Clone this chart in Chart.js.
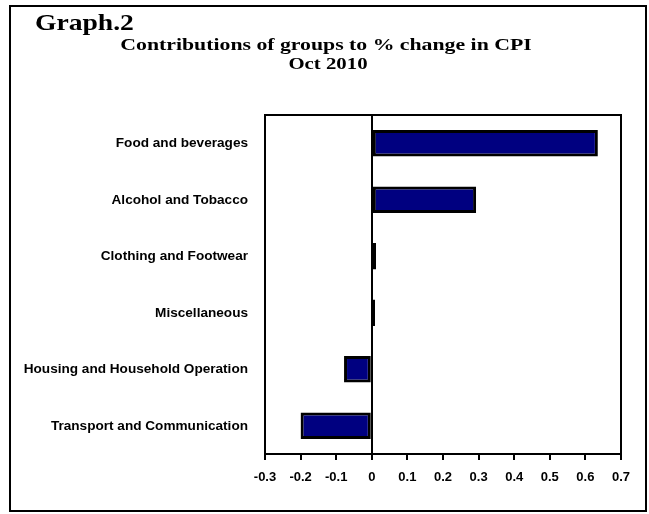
<!DOCTYPE html>
<html>
<head>
<meta charset="utf-8">
<script src="https://cdn.jsdelivr.net/npm/chart.js@4.4.0/dist/chart.umd.min.js"></script>
<style>
  html, body { margin: 0; padding: 0; background: #fff; }
  canvas { display: block; }
</style>
</head>
<body>
<canvas id="cpiChart" width="649" height="514"></canvas>
<script>
// Chart data
const groups = [
  'Food and beverages',
  'Alcohol and Tobacco',
  'Clothing and Footwear',
  'Miscellaneous',
  'Housing and Household Operation',
  'Transport and Communication'
];
const contributions = [0.635, 0.293, 0.012, 0.009, -0.078, -0.2];
const xMin = -0.3;
const xMax = 0.7;
const xStep = 0.1;

const headerText = 'Graph.2';
const titleLines = ['Contributions of groups to % change in CPI', 'Oct 2010'];

// draws text stretched horizontally (the original titles are wide)
function stretchedText(ctx, text, x, y, sx, align) {
  ctx.save();
  ctx.translate(x, y);
  ctx.scale(sx, 1);
  ctx.textAlign = align;
  ctx.textBaseline = 'alphabetic';
  ctx.fillText(text, 0, 0);
  ctx.restore();
}

const framePlugin = {
  id: 'frame',
  afterDraw(chart) {
    const ctx = chart.ctx;
    const a = chart.chartArea;
    ctx.save();
    ctx.strokeStyle = '#000';
    ctx.lineWidth = 2;
    // plot frame
    ctx.strokeRect(a.left, a.top, a.right - a.left, a.bottom - a.top);
    // outer border
    ctx.strokeRect(10, 6, chart.width - 13, chart.height - 9);

    ctx.fillStyle = '#000';
    ctx.font = 'bold 23px "Liberation Serif", "Times New Roman", serif';
    stretchedText(ctx, headerText, 35, 30, 1.2, 'left');
    ctx.font = 'bold 16px "Liberation Serif", "Times New Roman", serif';
    stretchedText(ctx, titleLines[0], 326, 50, 1.36, 'center');
    stretchedText(ctx, titleLines[1], 328, 69, 1.3, 'center');
    ctx.restore();
  }
};

function initChart() {
  const ctx = document.getElementById('cpiChart').getContext('2d');

  new Chart(ctx, {
    type: 'bar',
    data: {
      labels: groups,
      datasets: [{
        data: contributions,
        backgroundColor: '#000080',
        borderColor: '#000',
        borderWidth: 3,
        borderSkipped: false,
        categoryPercentage: 0.47,
        barPercentage: 1
      }]
    },
    options: {
      indexAxis: 'y',
      responsive: false,
      animation: false,
      layout: {
        padding: { top: 115, right: 28, bottom: 20, left: 0 }
      },
      scales: {
        x: {
          min: xMin,
          max: xMax,
          afterFit: s => { s.height = 40; },
          border: { display: false },
          grid: {
            drawOnChartArea: true,
            color: c => (c.tick && Math.abs(c.tick.value) < 1e-9) ? '#000' : 'rgba(0,0,0,0)',
            lineWidth: 2,
            tickColor: '#000',
            tickLength: 6,
            tickWidth: 2
          },
          ticks: {
            stepSize: xStep,
            color: '#000',
            padding: 10,
            maxRotation: 0,
            autoSkip: false,
            font: { family: '"Liberation Sans", Arial, sans-serif', size: 13, weight: 'bold' },
            callback: v => {
              const r = Math.round(v * 10) / 10;
              return r === 0 ? '0' : String(r);
            }
          }
        },
        y: {
          afterFit: s => { s.width = 265; },
          border: { display: false },
          grid: { display: false },
          ticks: {
            color: '#000',
            padding: 9,
            autoSkip: false,
            font: { family: '"Liberation Sans", Arial, sans-serif', size: 13.6, weight: 'bold' }
          }
        }
      },
      plugins: {
        legend: { display: false },
        title: { display: false },
        tooltip: { enabled: false }
      }
    },
    plugins: [framePlugin]
  });
}

document.addEventListener('DOMContentLoaded', initChart);
</script>
</body>
</html>
